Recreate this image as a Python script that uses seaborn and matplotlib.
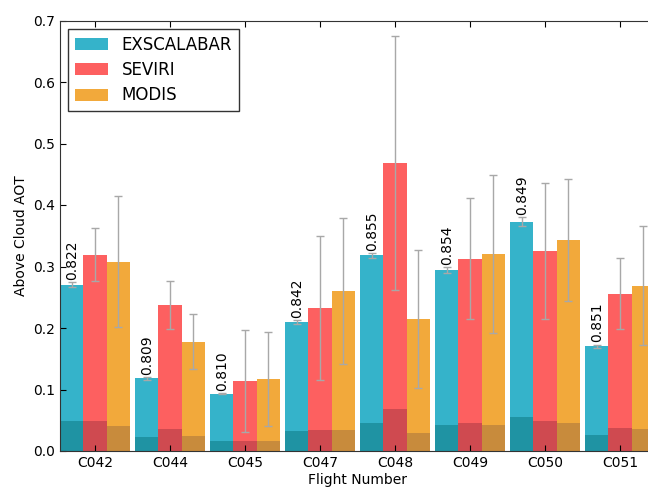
import numpy as np
import pandas as pd
import seaborn as sns
import matplotlib
matplotlib.use("Agg")
import matplotlib.pyplot as plt

# Flights and per-instrument above cloud AOT (mean, spread, lower-layer part)
flights = ['C042', 'C044', 'C045', 'C047', 'C048', 'C049', 'C050', 'C051']
instruments = ['EXSCALABAR', 'SEVIRI', 'MODIS']

exs_aot = [0.270, 0.118, 0.093, 0.210, 0.318, 0.294, 0.373, 0.170]
sev_aot = [0.319, 0.238, 0.114, 0.232, 0.468, 0.313, 0.325, 0.256]
mod_aot = [0.308, 0.178, 0.117, 0.260, 0.215, 0.320, 0.343, 0.269]

exs_err = [0.004, 0.002, 0.001, 0.003, 0.004, 0.005, 0.007, 0.003]
sev_err = [0.043, 0.039, 0.083, 0.117, 0.206, 0.098, 0.110, 0.058]
mod_err = [0.107, 0.045, 0.077, 0.119, 0.112, 0.128, 0.099, 0.097]

exs_low = [0.048, 0.023, 0.017, 0.033, 0.046, 0.043, 0.056, 0.026]
sev_low = [0.048, 0.035, 0.016, 0.034, 0.069, 0.046, 0.048, 0.038]
mod_low = [0.041, 0.024, 0.016, 0.034, 0.029, 0.042, 0.046, 0.036]

ssa_labels = ['0.822', '0.809', '0.810', '0.842', '0.855', '0.854', '0.849', '0.851']

colors = ['#35b3ca', '#fd6060', '#f2a93b']
dark_colors = ['#1f93a3', '#cf4a50', '#c88b3c']

df = pd.DataFrame({
    'flight': flights * 3,
    'instrument': np.repeat(instruments, len(flights)),
    'aot': exs_aot + sev_aot + mod_aot,
    'err': exs_err + sev_err + mod_err,
    'low': exs_low + sev_low + mod_low,
})

plt.rcParams['font.family'] = ['DejaVu Sans']
fig = plt.figure(figsize=(6.48, 4.88), dpi=100)
ax = fig.add_axes([60 / 648, 37 / 488, 595 / 648, 430.5 / 488])

sns.barplot(data=df, x='flight', y='aot', hue='instrument', order=flights,
            hue_order=instruments, palette=colors, width=0.93, gap=0,
            errorbar=None, saturation=1, ax=ax, linewidth=0)
handles, labels = ax.get_legend_handles_labels()
sns.barplot(data=df, x='flight', y='low', hue='instrument', order=flights,
            hue_order=instruments, palette=dark_colors, width=0.93, gap=0,
            errorbar=None, saturation=1, ax=ax, linewidth=0, legend=False)

# error bars at the bar centres
bar_w = 0.93 / 3
for k, inst in enumerate(instruments):
    sub = df[df.instrument == inst]
    xs = np.arange(len(flights)) + (k - 1) * bar_w
    ax.errorbar(xs, sub.aot, yerr=sub.err, fmt='none', ecolor='#a8a8a8',
                elinewidth=1, capsize=3, capthick=1, zorder=5)

# single scattering albedo labels above EXSCALABAR bars
for i, lab in enumerate(ssa_labels):
    ax.text(i - bar_w, exs_aot[i] + exs_err[i] + 0.004, lab, rotation=90,
            ha='center', va='bottom', fontsize=10)

ax.set_xlim(-1.5 * bar_w, len(flights) - 1 + 1.5 * bar_w)
ax.set_ylim(0, 0.7)
ax.set_yticks(np.arange(0, 0.71, 0.1))
ax.set_xlabel('Flight Number', fontsize=10, labelpad=2)
ax.set_ylabel('Above Cloud AOT', fontsize=10)
ax.tick_params(direction='in', top=True, right=True, labelsize=10, length=4)
for s in ax.spines.values():
    s.set_color('#333333')

ax.legend(handles, labels, loc='upper left', fontsize=12, frameon=True,
          fancybox=False, edgecolor='#333333', framealpha=1,
          handlelength=2.0, handleheight=0.7, labelspacing=0.45,
          handletextpad=0.8, borderaxespad=0.5)

fig.savefig('out.png', dpi=100)
